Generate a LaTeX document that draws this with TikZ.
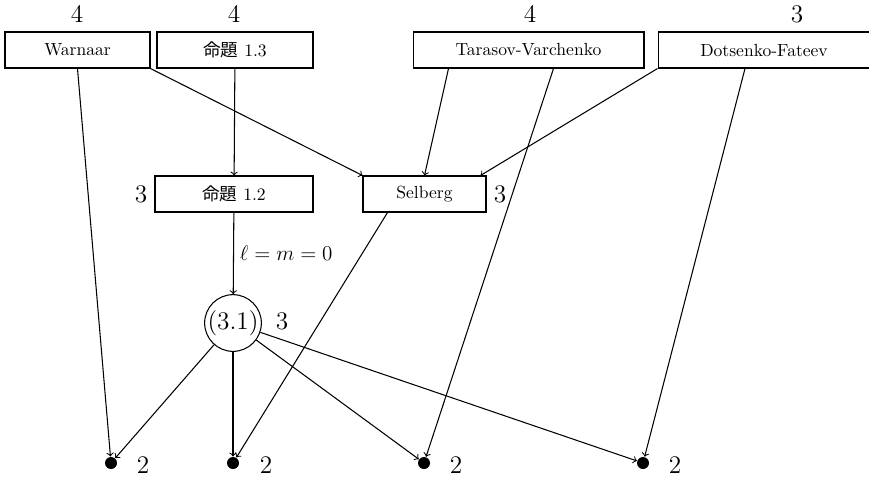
\documentclass[tikz,border=0pt]{standalone}
\usepackage{fontspec}
\newfontfamily\cjk{Noto Sans CJK JP}
\usetikzlibrary{calc}
\begin{document}
\begin{tikzpicture}[x=0.02cm, y=-0.02cm, semithick,
   box/.style={draw, minimum height=0.72cm, inner sep=0pt},
   dot/.style={circle, fill, inner sep=0pt, minimum size=0.24cm},
   num/.style={font=\Large}]%
   % Units are pixels of the page: 869 x 478
   \useasboundingbox (0,0) rectangle (869,478);

   % Top row
   \node[box, minimum width=2.9cm]  (wa)  at (77.5,50)  {Warnaar};
   \node[box, minimum width=3.12cm] (p13) at (235,50)   {{\cjk 命題} 1.3};
   \node[box, minimum width=4.62cm] (tv)  at (528.5,50) {Tarasov-Varchenko};
   \node[box, minimum width=4.24cm] (df)  at (764,50)   {Dotsenko-Fateev};
   \node[num] (nwa)  at (77,14)  {4};
   \node[num] (np13) at (234,14) {4};
   \node[num] (ntv)  at (530,14) {4};
   \node[num] (ndf)  at (797,14) {3};

   % Middle row
   \node[box, minimum width=3.16cm] (p12) at (234,194)   {{\cjk 命題} 1.2};
   \node[box, minimum width=2.46cm] (sb)  at (424.5,194) {Selberg};
   \node[num] (np12) at (141,194) {3};
   \node[num] (nsb)  at (500,194) {3};

   % The formula (3.1)
   \node[draw, circle, minimum size=1.12cm, inner sep=0pt, font=\Large] (c31) at (233,323) {(3.1)};
   \node[num] (nc31) at (282,321) {3};

   % Bottom row
   \node[dot] (d1) at (111,463) {};
   \node[dot] (d2) at (233,463) {};
   \node[dot] (d3) at (424,463) {};
   \node[dot] (d4) at (643,463) {};
   \node[num] (nd1) at (143,465) {2};
   \node[num] (nd2) at (266,465) {2};
   \node[num] (nd3) at (456,465) {2};
   \node[num] (nd4) at (675,465) {2};

   % Arrows
   \draw[->] (wa.south) -- (d1);
   \draw[->] (wa.south east) -- (sb.north west);
   \draw[->] (p13) -- (p12);
   \draw[->] ($(tv.south)+(-80,0)$) -- (sb.north);
   \draw[->] ($(tv.south)+(25,0)$) -- (d3);
   \draw[->] (df.south west) -- ($(sb.north east)+(-6,0)$);
   \draw[->] ($(df.south)+(-19,0)$) -- (d4);
   \draw[->] (p12) -- node[right, font=\large] {$\ell=m=0$} (c31);
   \draw[->] ($(sb.south)+(-37,0)$) -- (d2);
   \foreach \d in {d1,d2,d3,d4}
     \draw[->] (c31) -- (\d);
\end{tikzpicture}
\end{document}
